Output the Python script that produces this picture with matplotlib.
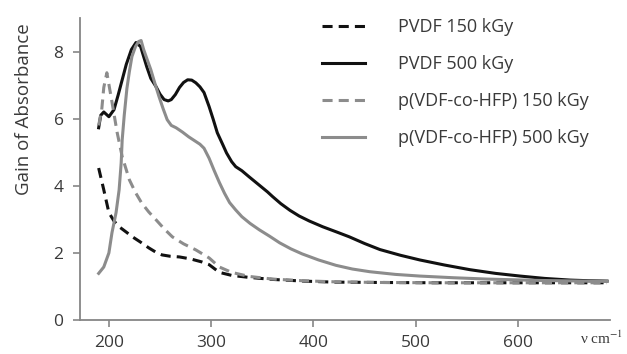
import matplotlib
matplotlib.use("Agg")
import matplotlib.pyplot as plt
import numpy as np

# wavenumbers and gains
x_pvdf150 = [190, 195, 200, 205, 210, 217, 223, 231, 239, 246, 252, 260, 269, 280, 291, 298, 308, 320, 337, 360, 390, 419, 460, 520, 600, 687]
y_pvdf150 = [4.53, 3.88, 3.2, 2.95, 2.78, 2.62, 2.48, 2.32, 2.15, 2.02, 1.94, 1.9, 1.88, 1.82, 1.73, 1.65, 1.42, 1.33, 1.27, 1.21, 1.16, 1.13, 1.12, 1.11, 1.11, 1.11]

x_pvdf500 = [190, 192, 195, 200, 205, 209, 213, 217, 222, 226.5, 231, 237, 241, 246, 250, 254, 258, 261, 265, 269, 273, 277, 281, 285, 289, 293, 298, 302, 306, 311, 315, 320, 324, 330, 337, 343, 349, 355, 360, 368, 377, 386, 396, 409, 423, 435, 450, 465, 485, 504, 528, 553, 578, 602, 626, 651, 670, 687]
y_pvdf500 = [5.73, 6.1, 6.2, 6.06, 6.27, 6.7, 7.16, 7.62, 8.06, 8.27, 8.15, 7.55, 7.2, 6.96, 6.73, 6.57, 6.53, 6.57, 6.72, 6.93, 7.08, 7.16, 7.15, 7.07, 6.95, 6.78, 6.36, 5.98, 5.58, 5.25, 4.98, 4.72, 4.57, 4.45, 4.27, 4.12, 3.97, 3.82, 3.68, 3.47, 3.27, 3.1, 2.95, 2.78, 2.62, 2.48, 2.28, 2.1, 1.93, 1.79, 1.64, 1.5, 1.39, 1.31, 1.24, 1.19, 1.17, 1.16]

x_hfp150 = [190, 193, 195, 198, 203, 208, 213, 220, 226, 232, 239, 246, 254, 262, 273, 285, 298, 308, 320, 337, 360, 390, 419, 460, 520, 600, 687]
y_hfp150 = [5.8, 6.27, 6.93, 7.37, 6.5, 5.6, 4.87, 4.18, 3.8, 3.49, 3.22, 2.99, 2.72, 2.48, 2.27, 2.09, 1.85, 1.58, 1.42, 1.3, 1.22, 1.17, 1.14, 1.12, 1.11, 1.11, 1.11]

x_hfp500 = [190, 195, 200, 203, 207, 210, 212, 213, 215, 217.6, 220, 222.5, 226, 229, 231.5, 234, 237, 241, 245, 249, 253, 257, 261, 265.7, 272, 278, 285, 289, 293, 298, 303, 308, 313, 318, 324, 330, 338, 347, 357, 367, 378, 389, 405, 422, 438, 455, 480, 504, 537, 570, 620, 687]
y_hfp500 = [1.39, 1.58, 2.0, 2.6, 3.2, 3.88, 4.68, 5.37, 6.1, 6.9, 7.4, 7.85, 8.15, 8.3, 8.33, 8.06, 7.8, 7.46, 7.05, 6.66, 6.3, 5.97, 5.8, 5.73, 5.6, 5.46, 5.32, 5.24, 5.12, 4.82, 4.45, 4.1, 3.78, 3.5, 3.28, 3.08, 2.88, 2.69, 2.5, 2.3, 2.12, 1.97, 1.79, 1.63, 1.52, 1.44, 1.36, 1.31, 1.26, 1.22, 1.18, 1.15]

labels = ["PVDF 150 kGy", "PVDF 500 kGy", "p(VDF-co-HFP) 150 kGy", "p(VDF-co-HFP) 500 kGy"]
xticks = [200, 300, 400, 500, 600]
yticks = [0, 2, 4, 6, 8]

plt.rcParams['font.family'] = ['Open Sans', 'DejaVu Sans']
plt.rcParams['mathtext.fontset'] = 'stix'

fig = plt.figure(figsize=(6.27, 3.54), dpi=100)
ax = fig.add_axes([0.128, 0.096, 0.845, 0.853])

black = "#111111"
gray = "#8c8c8c"
txt = "#3a3a3a"
lw = 2.2
dash = (3.3, 2.0)
ax.plot(x_pvdf150, y_pvdf150, color=black, lw=lw, dashes=dash, label=labels[0])
ax.plot(x_pvdf500, y_pvdf500, color=black, lw=lw, label=labels[1])
ax.plot(x_hfp150, y_hfp150, color=gray, lw=lw, dashes=dash, label=labels[2])
ax.plot(x_hfp500, y_hfp500, color=gray, lw=lw, label=labels[3])

ax.set_xlim(172, 690)
ax.set_ylim(0, 9)
ax.set_xticks(xticks)
ax.set_yticks(yticks)
ax.tick_params(colors="#868686", labelcolor=txt, labelsize=12.5, length=5, width=1.2)
ax.tick_params(axis='x', pad=6)
ax.tick_params(axis='y', pad=7)

for s in ["top", "right"]:
    ax.spines[s].set_visible(False)
for s in ["left", "bottom"]:
    ax.spines[s].set_color("#868686")
    ax.spines[s].set_linewidth(1.3)

ax.set_ylabel("Gain of Absorbance", fontsize=13.5, color=txt)
ax.yaxis.set_label_coords(-0.09, 0.70)
fig.text(580 / 627, 1 - 338 / 354, "ν cm$^{-1}$", fontsize=11, family="Liberation Serif",
         color=txt, ha="left", va="center")

leg = ax.legend(loc="upper left", bbox_to_anchor=(322 / 627, 1 - 18 / 354),
                bbox_transform=fig.transFigure, frameon=False, fontsize=13,
                borderpad=0, borderaxespad=0, handlelength=2.4, handletextpad=1.8,
                labelspacing=1.05, labelcolor=txt)

fig.savefig("out.png", dpi=100)
